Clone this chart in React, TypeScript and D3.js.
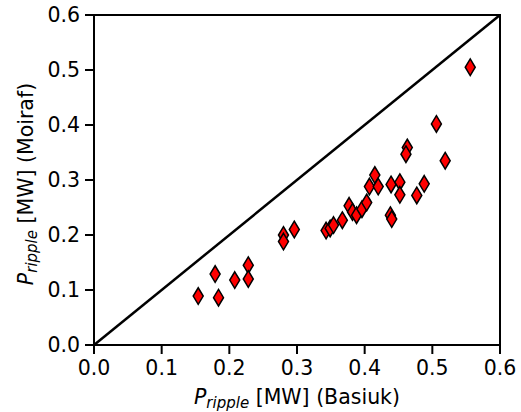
import React from "react";
import * as d3 from "d3";

const basiuk = [0.154, 0.179, 0.184, 0.208, 0.228, 0.228, 0.280, 0.280, 0.296,
  0.343, 0.349, 0.354, 0.367, 0.377, 0.382, 0.388, 0.396, 0.403, 0.407, 0.415, 0.420,
  0.438, 0.440, 0.439, 0.452, 0.452, 0.477, 0.488, 0.506, 0.463, 0.461, 0.519, 0.556];
const moiraf = [0.089, 0.129, 0.086, 0.118, 0.145, 0.120, 0.200, 0.188, 0.210,
  0.208, 0.212, 0.218, 0.227, 0.253, 0.242, 0.236, 0.247, 0.259, 0.288, 0.309, 0.288,
  0.236, 0.229, 0.292, 0.296, 0.273, 0.272, 0.293, 0.402, 0.359, 0.347, 0.335, 0.505];
const ticks = [0.0, 0.1, 0.2, 0.3, 0.4, 0.5, 0.6];
const domain = [0, 0.6];

export default function App() {
  const W = 521, H = 412;
  const left = 94, right = 500, top = 15, bottom = 345;
  const x = d3.scaleLinear().domain(domain).range([left, right]);
  const y = d3.scaleLinear().domain(domain).range([bottom, top]);
  const font = "'DejaVu Sans', sans-serif";
  const fs = 20.5;
  const sub = 15;
  const dw = 5, dh = 8.3;
  const diamond = `M0,${-dh}L${dw},0L0,${dh}L${-dw},0Z`;
  return (
    <svg width={W} height={H} style={{ position: "absolute", left: 0, top: 0 }}>
      <rect width={W} height={H} fill="#fff" />
      <line x1={x(0)} y1={y(0)} x2={x(0.6)} y2={y(0.6)} stroke="#000" strokeWidth={2.5} />
      {basiuk.map((v, i) => (
        <path key={i} d={diamond} transform={`translate(${x(v)},${y(moiraf[i])})`}
          fill="#ff0000" stroke="#000" strokeWidth={1.5} />
      ))}
      <rect x={left} y={top} width={right - left} height={bottom - top} fill="none" stroke="#000" strokeWidth={2} />
      {ticks.map((t) => (
        <g key={"x" + t}>
          <line x1={x(t)} x2={x(t)} y1={bottom} y2={bottom + 9} stroke="#000" strokeWidth={2} />
          <text x={x(t)} y={375} textAnchor="middle" fontFamily={font} fontSize={fs} fill="#000">{t.toFixed(1)}</text>
        </g>
      ))}
      {ticks.map((t) => (
        <g key={"y" + t}>
          <line x1={left - 9} x2={left} y1={y(t)} y2={y(t)} stroke="#000" strokeWidth={2} />
          <text x={80} y={y(t) + 7.4} textAnchor="end" fontFamily={font} fontSize={fs} fill="#000">{t.toFixed(1)}</text>
        </g>
      ))}
      <text x={(left + right) / 2} y={404} textAnchor="middle" fontFamily={font} fontSize={fs} fill="#000">
        <tspan fontStyle="italic">P</tspan>
        <tspan fontStyle="italic" fontSize={sub} dy={4}>ripple</tspan>
        <tspan dy={-4}> [MW] (Basiuk)</tspan>
      </text>
      <text transform={`translate(33,${(top + bottom) / 2 + 4}) rotate(-90)`} textAnchor="middle" fontFamily={font} fontSize={fs} fill="#000">
        <tspan fontStyle="italic">P</tspan>
        <tspan fontStyle="italic" fontSize={sub} dy={4}>ripple</tspan>
        <tspan dy={-4}> [MW] (Moiraf)</tspan>
      </text>
    </svg>
  );
}
